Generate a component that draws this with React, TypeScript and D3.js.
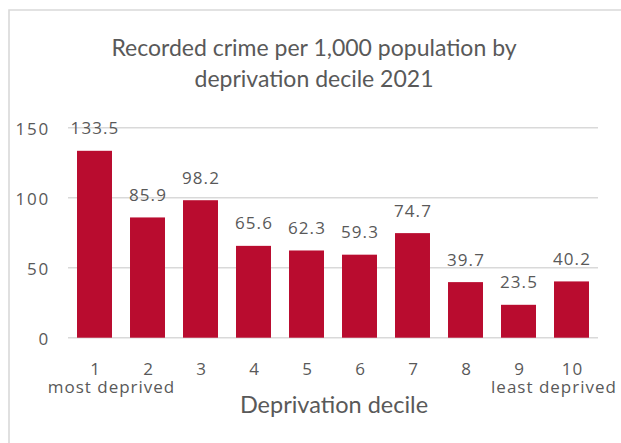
import React from "react";
import * as d3 from "d3";

const categories: string[] = ["1", "2", "3", "4", "5", "6", "7", "8", "9", "10"];
const values: number[] = [133.5, 85.9, 98.2, 65.6, 62.3, 59.3, 74.7, 39.7, 23.5, 40.2];
const yTicks: number[] = [0, 50, 100, 150];
const titleLines: string[] = ["Recorded crime per 1,000 population by", "deprivation decile 2021"];
const xTitle = "Deprivation decile";
const firstNote = "most deprived";
const lastNote = "least deprived";

const W = 621;
const H = 443;
const BAR = "#b90c2f";
const TEXT = "#595959";
const GRID = "#d9d9d9";
const TITLE_FONT = "Lato, 'Open Sans', sans-serif";
const NUM_FONT = "'Open Sans', sans-serif";

export default function App() {
  const x = d3.scaleBand<string>().domain(categories).range([68, 598]).paddingInner(0.34).paddingOuter(0.17);
  const y = d3.scaleLinear().domain([0, 150]).range([337.7, 127.7]);

  return (
    <svg width={W} height={H} style={{ position: "absolute", left: 0, top: 0, background: "#fff" }}>
      <rect x={0} y={0} width={W} height={H} fill="#fff" />
      <path d={`M9,${H + 5} L9,10 L${W + 5},10`} fill="none" stroke={GRID} strokeWidth={1.6} />
      {titleLines.map((t, i) => (
        <text key={t} x={314} y={56 + i * 31} textAnchor="middle" fontFamily={TITLE_FONT} fontSize={23} fill={TEXT}>
          {t}
        </text>
      ))}
      {yTicks.map((t) => (
        <g key={t}>
          <line x1={68} x2={598} y1={y(t)} y2={y(t)} stroke={GRID} strokeWidth={1.5} />
          <text x={50} y={y(t) + 7.3} textAnchor="end" fontFamily={NUM_FONT} fontSize={17} letterSpacing={1.8} fill={TEXT}>
            {t}
          </text>
        </g>
      ))}
      {categories.map((c, i) => (
        <g key={c}>
          <rect x={x(c)} y={y(values[i])} width={x.bandwidth()} height={y(0) - y(values[i])} fill={BAR} />
          <text x={(x(c) as number) + x.bandwidth() / 2 + 0.5} y={y(values[i]) - 16.5} textAnchor="middle" fontFamily={NUM_FONT} fontSize={17} letterSpacing={1.1} fill={TEXT}>
            {values[i].toFixed(1)}
          </text>
          <text x={(x(c) as number) + x.bandwidth() / 2 + 1} y={375} textAnchor="middle" fontFamily={NUM_FONT} fontSize={17} letterSpacing={1} fill={TEXT}>
            {c}
          </text>
        </g>
      ))}
      <text x={111.5} y={393} textAnchor="middle" fontFamily={NUM_FONT} fontSize={17} letterSpacing={1} fill={TEXT}>{firstNote}</text>
      <text x={554} y={393} textAnchor="middle" fontFamily={NUM_FONT} fontSize={17} letterSpacing={1} fill={TEXT}>{lastNote}</text>
      <text x={334} y={413} textAnchor="middle" fontFamily={TITLE_FONT} fontSize={23.5} fill={TEXT}>{xTitle}</text>
    </svg>
  );
}
